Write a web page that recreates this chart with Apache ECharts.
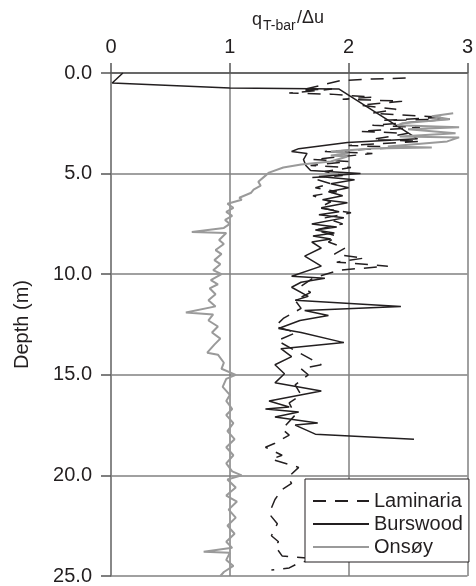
<!DOCTYPE html>
<html>
<head>
<meta charset="utf-8">
<script src="https://cdn.jsdelivr.net/npm/echarts@6/dist/echarts.min.js"></script>
<style>html,body{margin:0;padding:0;background:#fff}#c{width:476px;height:586px}</style>
</head>
<body>
<div id="c"></div>
<script>
// Tick values
const xTicks = [0, 1, 2, 3];
const depthTicks = [0, 5, 10, 15, 20, 25];
const seriesNames = ['Laminaria', 'Burswood', 'Onsøy'];
const xTitleParts = ['q', 'T-bar', '/Δu'];

// Laminaria: q/Δu values and depths (m)
const laminariaQ = [2.48,2.2,1.93,1.6,1.86,1.5,1.85,2.2,1.95,2.45,2.1,2.4,2.2,2.8,2.3,2.85,2.2,2.6,2.1,2.5,2.2,2.6,2.0,2.45,1.8,2.2,1.7,2.0,1.68,2.02,1.8,1.95,1.68,1.85,1.72,1.9,1.7,1.85,1.75,2.02,1.8,1.95,1.72,1.9,1.83,1.97,1.88,2.13,1.9,2.33,1.92,1.7,1.6,1.68,1.55,1.6,1.45,1.38,1.56,1.4,1.55,1.77,1.6,1.66,1.55,1.6,1.5,1.55,1.44,1.5,1.38,1.3,1.44,1.35,1.58,1.49,1.52,1.44,1.38,1.33,1.4,1.35,1.41,1.38,1.44,1.74,1.58,1.5,1.35];
const laminariaD = [0.25,0.3,0.38,0.85,0.8,1.0,1.05,1.2,1.3,1.4,1.6,1.8,2.0,2.2,2.35,2.3,2.6,2.7,2.9,3.0,3.3,3.4,3.6,3.7,3.9,4.0,4.3,4.4,4.6,4.7,4.9,5.1,5.2,5.5,5.7,5.9,6.1,6.4,6.7,6.95,7.2,7.5,7.8,8.1,8.4,8.7,9.0,9.2,9.4,9.6,9.8,10.2,10.6,10.9,11.3,11.7,12.2,12.6,12.9,13.3,13.8,14.5,14.7,15.0,15.5,16.0,16.4,17.0,17.7,18.0,18.4,18.6,19.0,19.2,19.6,20.1,20.4,20.7,21.2,21.9,22.4,23.0,23.3,23.5,24.0,24.15,24.35,24.6,24.7];

// Burswood
const burswoodQ = [0.1,0.01,1.0,1.92,2.58,1.99,1.58,1.52,1.65,1.62,1.64,1.68,2.1,1.75,2.05,1.85,2.0,1.83,1.95,1.78,1.99,1.77,1.92,1.75,1.96,1.69,1.9,1.72,1.88,1.7,1.85,1.69,1.77,1.63,1.77,1.52,1.8,1.6,1.52,1.66,1.55,2.44,1.63,1.83,1.59,1.41,1.6,1.96,1.43,1.52,1.38,1.46,1.38,1.77,1.33,1.5,1.3,1.58,1.38,1.74,1.55,1.72,2.55];
const burswoodD = [0,0.5,0.74,0.8,3.27,3.45,3.76,3.9,4.0,4.3,4.6,4.85,5.0,5.15,5.3,5.5,5.7,5.9,6.1,6.3,6.45,6.7,6.9,7.05,7.2,7.5,7.65,7.8,7.95,8.1,8.25,8.4,8.7,9.1,9.6,10.1,10.2,10.4,10.65,11.1,11.3,11.6,11.8,12.05,12.3,12.7,12.9,13.4,13.7,14.1,14.5,14.95,15.4,15.8,16.3,16.6,16.7,16.85,17.1,17.4,17.5,17.95,18.2];

// Onsøy
const onsoyQ = [2.88,2.7,2.85,2.45,2.41,2.93,2.5,2.9,2.43,2.93,2.83,2.33,2.7,2.2,1.85,2.0,1.85,1.99,1.85,1.6,1.45,1.33,1.3,1.24,1.26,1.2,1.18,1.08,1.1,0.98,1.03,0.97,1.02,0.96,1.0,0.95,0.68,0.97,0.91,0.95,0.88,0.93,0.87,0.92,0.86,0.93,0.84,0.9,0.83,0.88,0.82,0.88,0.63,0.86,0.82,0.9,0.85,0.92,0.87,0.81,0.9,0.95,0.93,1.05,0.97,0.94,1.0,0.97,1.02,0.97,1.03,0.98,1.04,0.97,1.03,0.97,1.02,1.1,0.98,1.05,0.97,1.06,0.99,1.05,0.98,1.04,0.97,1.02,0.78,1.0,0.97,1.03,0.95,0.92];
const onsoyD = [2.0,2.15,2.3,2.5,2.6,2.7,2.8,3.0,3.15,3.2,3.4,3.65,3.7,3.75,3.9,4.0,4.1,4.15,4.4,4.55,4.7,4.95,5.1,5.4,5.6,5.8,5.95,6.2,6.3,6.5,6.7,6.9,7.1,7.3,7.5,7.7,7.9,7.95,8.3,8.5,8.8,9.0,9.3,9.5,9.8,10.0,10.3,10.5,10.7,11.0,11.3,11.6,11.9,12.0,12.3,12.6,12.9,13.2,13.5,13.9,14.0,14.4,14.7,15.0,15.2,15.6,16.0,16.3,16.7,17.0,17.4,17.8,18.2,18.6,19.0,19.4,19.8,20.0,20.2,20.6,21.0,21.3,21.7,22.1,22.5,22.9,23.3,23.6,23.8,23.85,24.2,24.5,24.8,25.0];

function pairs(q, d) { return q.map((v, i) => [v, d[i]]); }

const font = '"Liberation Sans", Arial, sans-serif';
const ink = '#231f20';
const chart = echarts.init(document.getElementById('c'), null, { renderer: 'canvas' });
chart.setOption({
  animation: false,
  backgroundColor: '#fff',
  textStyle: { fontFamily: font, color: ink },
  grid: { left: 111, right: 5, top: 73, bottom: 8, containLabel: false },
  graphic: [
    { type: 'text', left: 252, top: 11, style: { text: xTitleParts[0], font: '18px ' + font, fill: ink } },
    { type: 'text', left: 263, top: 19, style: { text: xTitleParts[1], font: '14px ' + font, fill: ink } },
    { type: 'text', left: 297, top: 9, style: { text: xTitleParts[2], font: '18px ' + font, fill: ink } }
  ],
  xAxis: {
    type: 'value', position: 'top', min: xTicks[0], max: xTicks[xTicks.length - 1], interval: 1,
    axisLine: { show: true, lineStyle: { color: '#555', width: 1.5 } },
    axisTick: { show: true, inside: false, length: 10, lineStyle: { color: '#555', width: 1.5 } },
    axisLabel: { fontSize: 20, color: ink, margin: 16, fontFamily: font },
    splitLine: { show: true, lineStyle: { color: '#808080', width: 1.5 } }
  },
  yAxis: {
    type: 'value', inverse: true, min: depthTicks[0], max: depthTicks[depthTicks.length - 1], interval: 5,
    name: 'Depth (m)', nameLocation: 'middle', nameGap: 79, nameRotate: 90,
    nameTextStyle: { fontSize: 20, color: ink, fontFamily: font },
    axisLine: { show: true, lineStyle: { color: '#808080', width: 1.5 } },
    axisTick: { show: true, inside: false, length: 10, lineStyle: { color: '#555', width: 1.5 } },
    axisLabel: { fontSize: 20, color: ink, margin: 19, fontFamily: font, formatter: v => v.toFixed(1) },
    splitLine: { show: true, lineStyle: { color: '#808080', width: 1.5 } }
  },
  legend: {
    data: seriesNames, orient: 'vertical', left: 305, top: 479,
    padding: [11, 6, 4, 7], itemGap: 1, itemWidth: 56, itemHeight: 14,
    borderColor: ink, borderWidth: 1, backgroundColor: '#fff', borderRadius: 0,
    itemStyle: { opacity: 0, color: 'rgba(0,0,0,0)', borderWidth: 0 },
    textStyle: { fontSize: 20, lineHeight: 22, color: ink, fontFamily: font },
    z: 10
  },
  series: [
    { name: seriesNames[0], type: 'line', data: pairs(laminariaQ, laminariaD), symbol: 'none', showSymbol: false,
      lineStyle: { color: ink, width: 1.5, type: [13, 9] }, itemStyle: { color: ink } },
    { name: seriesNames[1], type: 'line', data: pairs(burswoodQ, burswoodD), symbol: 'none', showSymbol: false,
      lineStyle: { color: ink, width: 1.5 }, itemStyle: { color: ink } },
    { name: seriesNames[2], type: 'line', data: pairs(onsoyQ, onsoyD), symbol: 'none', showSymbol: false,
      lineStyle: { color: '#9a9a9a', width: 2 }, itemStyle: { color: '#9a9a9a' } }
  ]
});
</script>
</body>
</html>
